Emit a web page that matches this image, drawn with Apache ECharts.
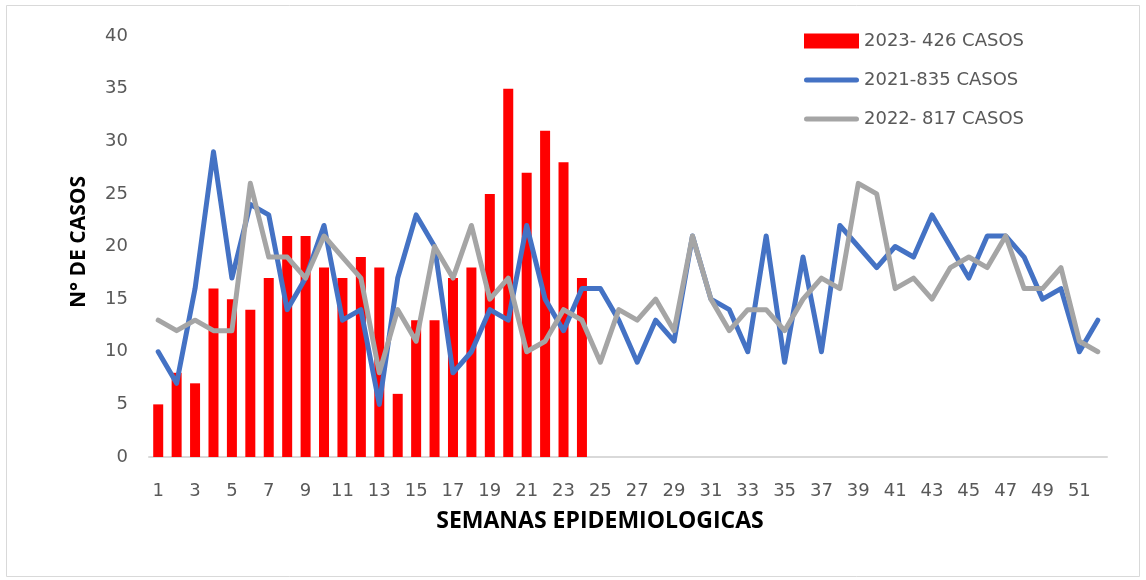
<!DOCTYPE html>
<html>
<head>
<meta charset="utf-8">
<script src="https://cdn.jsdelivr.net/npm/echarts@6/dist/echarts.min.js"></script>
<style>
html,body{margin:0;padding:0;background:#fff;}
#chart{width:1146px;height:580px;}
</style>
</head>
<body>
<div id="chart"></div>
<script>
// Epidemiological weeks 1..52
const weeks = Array.from({length: 52}, (_, i) => String(i + 1));
// 2023 cases (weeks 1-24)
const cases2023 = [5, 8, 7, 16, 15, 14, 17, 21, 21, 18, 17, 19, 18, 6, 13, 13, 17, 18, 25, 35, 27, 31, 28, 17];
// 2021 cases
const cases2021 = [10, 7, 16, 29, 17, 24, 23, 14, 17, 22, 13, 14, 5, 17, 23, 20, 8, 10, 14, 13, 22, 15, 12, 16, 16, 13,
                   9, 13, 11, 21, 15, 14, 10, 21, 9, 19, 10, 22, 20, 18, 20, 19, 23, 20, 17, 21, 21, 19, 15, 16, 10, 13];
// 2022 cases
const cases2022 = [13, 12, 13, 12, 12, 26, 19, 19, 17, 21, 19, 17, 8, 14, 11, 20, 17, 22, 15, 17, 10, 11, 14, 13, 9, 14,
                   13, 15, 12, 21, 15, 12, 14, 14, 12, 15, 17, 16, 26, 25, 16, 17, 15, 18, 19, 18, 21, 16, 16, 18, 11, 10];
const seriesNames = ['2023- 426 CASOS', '2021-835 CASOS', '2022- 817 CASOS'];
const yTicks = {min: 0, max: 40, interval: 5};
const xTitle = 'SEMANAS EPIDEMIOLOGICAS';
const yTitle = 'N° DE CASOS';

const chart = echarts.init(document.getElementById('chart'), null, {renderer: 'canvas'});
const labelFont = 'DejaVu Sans';
const lineIcon = 'path://M2.5,0 H52.5 A2.5,2.5 0 0 1 52.5,5 H2.5 A2.5,2.5 0 0 1 2.5,0 Z';
const option = {
  animation: false,
  backgroundColor: '#ffffff',
  grid: {left: 149, right: 39, top: 36, bottom: 123, containLabel: false},
  legend: {
    orient: 'vertical',
    left: 804,
    top: 32,
    padding: 0,
    itemWidth: 55,
    itemHeight: 15,
    itemGap: 21,
    textStyle: {fontFamily: labelFont, fontSize: 18, color: '#595959'},
    data: [
      {name: seriesNames[0], icon: 'rect'},
      {name: seriesNames[1], icon: lineIcon},
      {name: seriesNames[2], icon: lineIcon}
    ]
  },
  xAxis: {
    type: 'category',
    data: weeks,
    boundaryGap: true,
    axisTick: {show: false},
    axisLine: {lineStyle: {color: '#d9d9d9', width: 2}},
    axisLabel: {interval: 1, margin: 25, fontFamily: labelFont, fontSize: 18, color: '#595959'},
    splitLine: {show: false}
  },
  yAxis: {
    type: 'value',
    min: yTicks.min, max: yTicks.max, interval: yTicks.interval,
    axisLine: {show: false},
    axisTick: {show: false},
    splitLine: {show: false},
    axisLabel: {margin: 21, fontFamily: labelFont, fontSize: 18, color: '#595959'}
  },
  graphic: [
    {type: 'rect', shape: {x: 6.5, y: 5.5, width: 1133, height: 571}, style: {fill: 'none', stroke: '#d9d9d9', lineWidth: 1}, silent: true},
    {type: 'text', x: 600, y: 521, style: {text: xTitle, font: 'bold 23px "Open Sans"', fill: '#000000', align: 'center', verticalAlign: 'middle'}},
    {type: 'text', x: 79, y: 242, rotation: Math.PI / 2, style: {text: yTitle, font: 'bold 21px "Open Sans"', fill: '#000000', align: 'center', verticalAlign: 'middle'}}
  ],
  series: [
    {
      name: seriesNames[0], type: 'bar', data: cases2023, barWidth: 10,
      itemStyle: {color: '#ff0000'}
    },
    {
      name: seriesNames[1], type: 'line', data: cases2021, symbol: 'none', smooth: false,
      lineStyle: {color: '#4472c4', width: 5, cap: 'round', join: 'round'},
      itemStyle: {color: '#4472c4'}
    },
    {
      name: seriesNames[2], type: 'line', data: cases2022, symbol: 'none', smooth: false,
      lineStyle: {color: '#a5a5a5', width: 5, cap: 'round', join: 'round'},
      itemStyle: {color: '#a5a5a5'}
    }
  ]
};
chart.setOption(option);
</script>
</body>
</html>
